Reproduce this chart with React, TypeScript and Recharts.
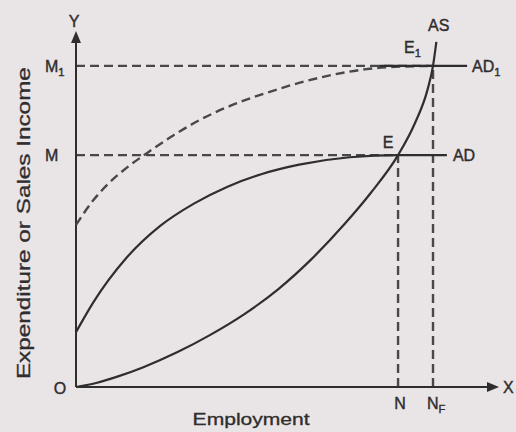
import React from 'react';
import { ComposedChart, Line, XAxis, YAxis, ReferenceLine, ReferenceDot } from 'recharts';

// employment (x) and expenditure (y) on a 0–100 scale
const AD_X = [0, 4, 12, 20, 28, 36, 44, 53, 65, 76.5, 88.1];
const AD_Y = [15.5, 23.7, 36.5, 45.5, 51.8, 56.6, 60.1, 62.8, 64.9, 65.5, 65.5];

const AD1_X = [0, 4, 8, 12, 17, 23, 29.5, 37, 45, 53, 61, 69, 77, 84.8];
const AD1_Y = [45.8, 52.6, 57.8, 61.9, 66.2, 71, 75.5, 79.6, 83, 85.9, 88.2, 89.8, 90.5, 90.7];
const AD1_FLAT_X = [72, 92.9];

const AS_X = [0, 5, 10, 16, 24, 32, 40, 48, 56, 64, 70, 76.5, 80.5, 83.5, 84.8, 85.6];
const AS_Y = [0, 1.2, 3, 5.6, 9.8, 14.8, 20.6, 27.6, 36.2, 46.3, 54.8, 65.5, 74.5, 84, 90.7, 97.5];

const N = 76.5;
const NF = 84.8;
const M = 65.5;
const M1 = 90.7;

const zip = (xs: number[], ys: number[]) => xs.map((x, i) => ({ x, y: ys[i] }));
const adData = zip(AD_X, AD_Y);
const ad1Data = zip(AD1_X, AD1_Y);
const ad1Flat = AD1_FLAT_X.map((x) => ({ x, y: M1 }));
const asData = zip(AS_X, AS_Y);

const INK = '#2f2d2e';
const DASH_INK = '#4a4748';
const FONT = '"Liberation Sans", Arial, sans-serif';

type TxtProps = {
  cx?: number;
  cy?: number;
  dx?: number;
  dy?: number;
  text: string;
  sub?: string;
  anchor?: 'start' | 'middle' | 'end';
  size?: number;
};

const Txt = ({ cx = 0, cy = 0, dx = 0, dy = 0, text, sub, anchor = 'start', size = 16 }: TxtProps) => (
  <text
    x={cx + dx}
    y={cy + dy}
    textAnchor={anchor}
    fontSize={size}
    fill={INK}
    stroke={INK}
    strokeWidth={0.4}
    fontFamily={FONT}
  >
    {text}
    {sub && (
      <tspan fontSize={size * 0.7} dy={4}>
        {sub}
      </tspan>
    )}
  </text>
);

const label = (x: number, y: number, p: Omit<TxtProps, 'cx' | 'cy'>, key: string) => (
  <ReferenceDot
    key={key}
    x={x}
    y={y}
    r={1}
    shape={(s: any) => <Txt cx={s.cx} cy={s.cy} {...p} />}
  />
);

const arrowUp = (s: any) => (
  <polygon points={`${s.cx},${s.cy - 2} ${s.cx - 5},${s.cy + 10} ${s.cx + 5},${s.cy + 10}`} fill={INK} />
);
const arrowRight = (s: any) => (
  <polygon points={`${s.cx + 2},${s.cy} ${s.cx - 10},${s.cy - 5} ${s.cx - 10},${s.cy + 5}`} fill={INK} />
);

export default function App() {
  return (
    <div style={{ position: 'absolute', left: 0, top: 0, width: 516, height: 432, background: '#e9e4e5' }}>
      <ComposedChart width={516} height={432} margin={{ top: 33, right: 19, bottom: 45, left: 76 }}>
        <XAxis type="number" dataKey="x" domain={[0, 100]} hide />
        <YAxis type="number" dataKey="y" domain={[0, 100]} hide />

        {/* guide lines */}
        <ReferenceLine segment={[{ x: 0, y: M }, { x: N, y: M }]} stroke={DASH_INK} strokeWidth={2.4} strokeDasharray="9 5" />
        <ReferenceLine segment={[{ x: 0, y: M1 }, { x: NF, y: M1 }]} stroke={DASH_INK} strokeWidth={2.4} strokeDasharray="9 5" />
        <ReferenceLine segment={[{ x: N, y: 0 }, { x: N, y: M }]} stroke={DASH_INK} strokeWidth={2.4} strokeDasharray="9 5" />
        <ReferenceLine segment={[{ x: NF, y: 0 }, { x: NF, y: M1 }]} stroke={DASH_INK} strokeWidth={2.4} strokeDasharray="9 5" />

        {/* axes */}
        <ReferenceLine segment={[{ x: 0, y: 0 }, { x: 99, y: 0 }]} stroke={INK} strokeWidth={2} />
        <ReferenceLine segment={[{ x: 0, y: 0 }, { x: 0, y: 99 }]} stroke={INK} strokeWidth={2} />
        <ReferenceDot x={0} y={100} r={1} shape={arrowUp} />
        <ReferenceDot x={100} y={0} r={1} shape={arrowRight} />

        <Line data={ad1Data} dataKey="y" type="monotone" stroke={DASH_INK} strokeWidth={2.4} strokeDasharray="9 5" dot={false} isAnimationActive={false} />
        <Line data={ad1Flat} dataKey="y" type="linear" stroke={INK} strokeWidth={2.2} dot={false} isAnimationActive={false} />
        <Line data={adData} dataKey="y" type="monotone" stroke={INK} strokeWidth={2.2} dot={false} isAnimationActive={false} />
        <Line data={asData} dataKey="y" type="monotone" stroke={INK} strokeWidth={2.2} dot={false} isAnimationActive={false} />

        {label(0, 100, { text: 'Y', anchor: 'middle', dx: -2, dy: -6 }, 'y')}
        {label(100, 0, { text: 'X', dx: 6, dy: 6 }, 'x')}
        {label(0, 0, { text: 'O', anchor: 'middle', dx: -16, dy: 7 }, 'o')}
        {label(0, M, { text: 'M', dx: -31, dy: 6 }, 'm')}
        {label(0, M1, { text: 'M', sub: '1', dx: -31, dy: 6 }, 'm1')}
        {label(N, 0, { text: 'N', anchor: 'middle', dx: 2, dy: 22 }, 'n')}
        {label(NF, 0, { text: 'N', sub: 'F', dx: -6, dy: 22 }, 'nf')}
        {label(N, M, { text: 'E', anchor: 'middle', dx: -10, dy: -7 }, 'e')}
        {label(NF, M1, { text: 'E', sub: '1', dx: -29, dy: -13 }, 'e1')}
        {label(NF, M1, { text: 'AS', dx: -5, dy: -35 }, 'as')}
        {label(88.1, M, { text: 'AD', dx: 6, dy: 6 }, 'ad')}
        {label(92.9, M1, { text: 'AD', sub: '1', dx: 5, dy: 6 }, 'ad1')}

        {/* axis titles */}
        <ReferenceDot
          x={0}
          y={46.3}
          r={1}
          shape={(s: any) => (
            <text
              x={s.cx - 46}
              y={s.cy}
              transform={`rotate(-90 ${s.cx - 46} ${s.cy})`}
              textAnchor="middle"
              fontSize={18}
              fill={INK}
              stroke={INK}
              strokeWidth={0.3}
              fontFamily={FONT}
              textLength={312}
              lengthAdjust="spacingAndGlyphs"
            >
              Expenditure or Sales Income
            </text>
          )}
        />
        <ReferenceDot
          x={41.6}
          y={0}
          r={1}
          shape={(s: any) => (
            <text
              x={s.cx}
              y={s.cy + 38}
              textAnchor="middle"
              fontSize={16}
              fill={INK}
              stroke={INK}
              strokeWidth={0.3}
              fontFamily={FONT}
              textLength={117}
              lengthAdjust="spacingAndGlyphs"
            >
              Employment
            </text>
          )}
        />
      </ComposedChart>
    </div>
  );
}
